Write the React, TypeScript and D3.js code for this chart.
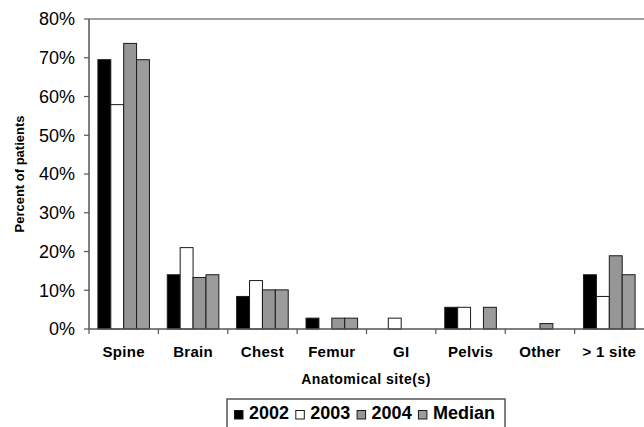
import React from "react";
import * as d3 from "d3";

const sites = ["Spine", "Brain", "Chest", "Femur", "GI", "Pelvis", "Other", "> 1 site"];
const seriesNames = ["2002", "2003", "2004", "Median"];

// percent of patients per site
const v2002 = [69.5, 14.0, 8.4, 2.8, 0, 5.6, 0, 14.0];
const v2003 = [57.9, 21.0, 12.5, 0, 2.8, 5.6, 0, 8.4];
const v2004 = [73.7, 13.3, 10.1, 2.8, 0, 0, 1.4, 18.9];
const vMedian = [69.5, 14.0, 10.1, 2.8, 0, 5.6, 0, 14.0];

const yTicks = [0, 10, 20, 30, 40, 50, 60, 70, 80];

const fills = ["#000000", "#ffffff", "#969696", "#9c9c9c"];
const FONT = "'Liberation Sans', Arial, sans-serif";

const W = 644;
const H = 427;
const left = 89;
const top = 19;
const bottom = 329;

const App = () => {
  const values = [v2002, v2003, v2004, vMedian];

  const x = d3.scaleBand<string>().domain(sites).range([left, left + 8 * 69.375]).padding(0);
  const gw = x.bandwidth();
  const xs = d3.scaleBand<string>().domain(seriesNames).range([8.9, gw - 8.9]).padding(0);
  const y = d3.scaleLinear().domain([0, 80]).range([bottom, top]);

  const legendX = 234.5;
  const legendStep = 61.3;

  return (
    <svg
      width={W}
      height={H}
      style={{ position: "absolute", left: 0, top: 0, background: "#fff" }}
      fontFamily={FONT}
    >
      {/* plot frame top */}
      <line x1={left} x2={W} y1={top} y2={top} stroke="#808080" strokeWidth={1.5} />

      {/* bars */}
      {seriesNames.map((s, si) =>
        sites.map((c, ci) => {
          const v = values[si][ci];
          if (!v) return null;
          return (
            <rect
              key={s + c}
              x={(x(c) as number) + (xs(s) as number)}
              y={y(v)}
              width={xs.bandwidth()}
              height={y(0) - y(v)}
              fill={fills[si]}
              stroke="#1a1a1a"
              strokeWidth={1}
            />
          );
        })
      )}

      {/* y axis */}
      <line x1={left} x2={left} y1={top} y2={bottom} stroke="#555" strokeWidth={1.5} />
      {yTicks.map((t) => (
        <g key={t}>
          <line x1={left - 5} x2={left} y1={y(t)} y2={y(t)} stroke="#555" strokeWidth={1.2} />
          <text x={75} y={y(t)} dy="0.36em" textAnchor="end" fontSize={18} fill="#000">
            {t}%
          </text>
        </g>
      ))}

      {/* x axis */}
      <line x1={left} x2={W} y1={bottom} y2={bottom} stroke="#555" strokeWidth={1.5} />
      {sites.map((c) => (
        <g key={c}>
          <line x1={x(c) as number} x2={x(c) as number} y1={bottom} y2={bottom + 5} stroke="#555" strokeWidth={1.2} />
          <text
            x={(x(c) as number) + gw / 2}
            y={357}
            textAnchor="middle"
            fontSize={15}
            fontWeight="bold"
            letterSpacing={0.3}
          >
            {c}
          </text>
        </g>
      ))}

      {/* axis titles */}
      <text x={366} y={384} textAnchor="middle" fontSize={14} fontWeight="bold" letterSpacing={0.5}>
        Anatomical site(s)
      </text>
      <text
        transform={`translate(24, ${(top + bottom) / 2}) rotate(-90)`}
        textAnchor="middle"
        fontSize={13}
        fontWeight="bold"
      >
        Percent of patients
      </text>

      {/* legend */}
      <rect x={227} y={399} width={278} height={40} fill="#fff" stroke="#555" strokeWidth={1.5} />
      {seriesNames.map((s, i) => (
        <g key={s} transform={`translate(${legendX + i * legendStep}, 0)`}>
          <rect x={0} y={410.5} width={8.5} height={8.5} fill={fills[i]} stroke="#1a1a1a" strokeWidth={1} />
          <text x={14.5} y={419} fontSize={18} fontWeight="bold">
            {s}
          </text>
        </g>
      ))}
    </svg>
  );
};

export default App;
